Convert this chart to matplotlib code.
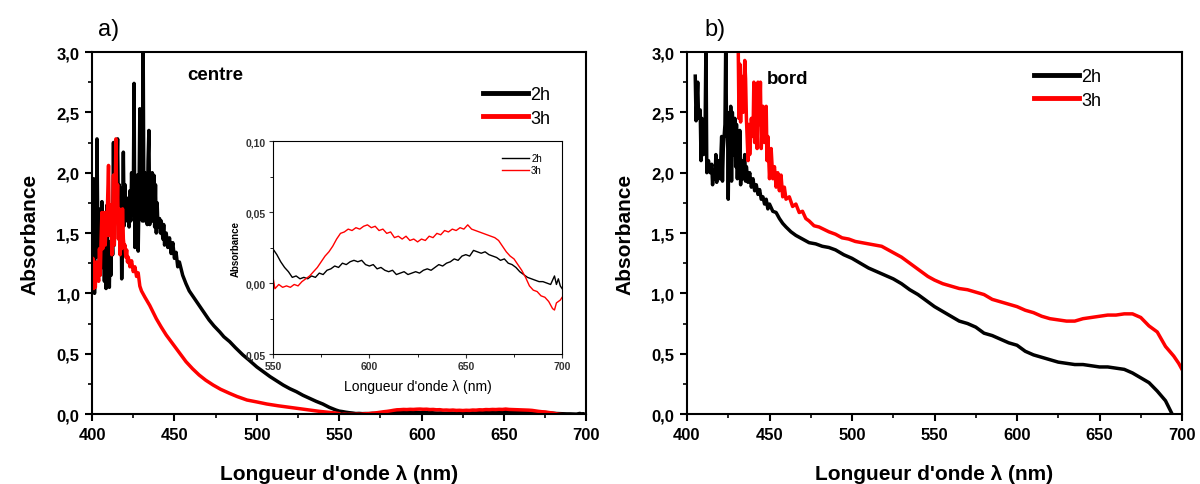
import matplotlib
matplotlib.use("Agg")
import matplotlib.pyplot as plt
from matplotlib.ticker import MultipleLocator, FuncFormatter

plt.rcParams['font.family'] = ['Liberation Sans', 'DejaVu Sans']

# ---- panel a) "centre" : 2h (black) ----
wl_a_2h = [400.0, 400.5, 401.0, 401.5, 402.0, 402.5, 403.0, 403.5, 404.0, 404.5,
           405.0, 405.5, 406.0, 406.5, 407.0, 407.5, 408.0, 408.5, 409.0, 409.5,
           410.0, 410.5, 411.0, 411.5, 412.0, 412.5, 413.0, 413.5, 414.0, 414.5,
           415.0, 415.5, 416.0, 416.5, 417.0, 417.5, 418.0, 418.5, 419.0, 419.5,
           420.0, 420.5, 421.0, 421.5, 422.0, 422.5, 423.0, 423.5, 424.0, 424.5,
           425.0, 425.5, 426.0, 426.5, 427.0, 427.5, 428.0, 428.5, 429.0, 429.5,
           430.0, 430.5, 431.0, 431.5, 432.0, 432.5, 433.0, 433.5, 434.0, 434.5,
           435.0, 435.5, 436.0, 436.5, 437.0, 437.5, 438.0, 438.5, 439.0, 439.5,
           440.0, 441.0, 441.5, 442.0, 443.0, 443.5, 444.0, 445.0, 446.0, 447.0,
           448.0, 449.0, 450.0, 451.0, 452.0, 453.0, 455.0, 457.0, 459.0, 462.0,
           465.0, 468.0, 471.0, 474.0, 477.5, 480.0, 483.5, 487.0, 491.5, 495.0,
           500.0, 504.0, 508.0, 512.0, 516.0, 520.0, 524.0, 528.0, 532.0, 536.0,
           540.0, 544.0, 548.0,
           550, 552, 554, 556, 558, 560, 562, 564, 566, 568, 570, 572, 574, 576,
           578, 580, 582, 584, 586, 588, 590, 592, 594, 596, 598, 600, 602, 604,
           606, 608, 610, 612, 614, 616, 618, 620, 622, 624, 626, 628, 630, 632,
           634, 636, 638, 640, 642, 644, 646, 648, 650, 652, 654, 656, 658, 660,
           662, 664, 666, 668, 670, 672, 674, 676, 678, 680, 682, 684, 686, 688,
           690, 692, 694, 696, 697, 698, 699, 700]
abs_a_2h = [1.20, 1.55, 1.95, 1.00, 1.70, 1.30, 2.28, 1.48, 1.70, 1.25,
            1.60, 1.21, 1.76, 1.30, 1.55, 1.10, 1.65, 1.04, 1.73, 1.20,
            1.40, 1.05, 1.43, 1.15, 1.60, 1.32, 2.25, 1.40, 1.90, 1.65,
            2.00, 2.28, 1.65, 1.90, 1.40, 1.87, 1.12, 1.60, 2.17, 1.56,
            1.90, 1.60, 1.79, 1.62, 1.75, 1.55, 1.85, 1.60, 2.00, 1.65,
            1.70, 2.74, 1.38, 1.90, 1.50, 1.98, 1.35, 1.80, 2.53, 1.73,
            2.20, 1.60, 3.10, 1.60, 2.00, 1.65, 1.98, 1.57, 2.10, 2.35,
            1.57, 1.95, 1.60, 2.00, 1.60, 1.98, 1.55, 1.90, 1.50, 1.75,
            1.55, 1.62, 1.50, 1.60, 1.45, 1.57, 1.40, 1.50, 1.38, 1.46,
            1.33, 1.42, 1.29, 1.34, 1.22, 1.26, 1.15, 1.08, 1.02, 0.96,
            0.90, 0.84, 0.78, 0.73, 0.68, 0.64, 0.60, 0.55, 0.49, 0.45,
            0.39, 0.35, 0.31, 0.275, 0.24, 0.21, 0.185, 0.155, 0.13, 0.105,
            0.083, 0.055, 0.033,
            0.024, 0.020, 0.015, 0.011, 0.008, 0.004, 0.005, 0.003, 0.004, 0.003,
            0.005, 0.004, 0.007, 0.006, 0.009, 0.010, 0.012, 0.011, 0.014, 0.013,
            0.015, 0.016, 0.015, 0.016, 0.013, 0.012, 0.013, 0.010, 0.011, 0.009,
            0.008, 0.009, 0.006, 0.007, 0.008, 0.006, 0.007, 0.008, 0.007, 0.009,
            0.010, 0.009, 0.011, 0.013, 0.012, 0.014, 0.015, 0.017, 0.016, 0.019,
            0.020, 0.019, 0.023, 0.022, 0.021, 0.022, 0.020, 0.019, 0.018, 0.016,
            0.017, 0.014, 0.013, 0.011, 0.008, 0.006, 0.004, 0.003, 0.002, 0.001,
            0.001, 0.000, -0.001, 0.005, -0.001, 0.003, -0.002, -0.004]

# ---- panel a) "centre" : 3h (red) ----
wl_a_3h = [400.0, 400.5, 401.0, 401.5, 402.0, 402.5, 403.0, 403.5, 404.0, 404.5,
           405.0, 405.5, 406.0, 406.5, 407.0, 407.5, 408.0, 408.5, 409.0, 409.5,
           410.0, 410.5, 411.0, 411.5, 412.0, 412.5, 413.0, 413.5, 414.0, 414.5,
           415.0, 415.5, 416.0, 416.5, 417.0, 417.5, 418.0, 418.5, 419.0, 419.5,
           420.0, 420.5, 421.0, 421.5, 422.0, 423.0, 424.0, 425.0, 426.0, 427.0,
           428.0, 429.0, 430.0, 432.0, 435.0, 439.0, 442.0, 445.0, 448.0, 451.0,
           454.0, 457.0, 461.0, 465.0, 469.0, 473.5, 478.0, 483.5, 488.0, 494.0,
           500.0, 506.0, 513.0, 520.0, 526.0, 532.0, 538.0, 544.0, 548.0,
           550, 551, 553, 555, 557, 559, 561, 563, 565, 567, 569, 571, 573, 575,
           577, 579, 581, 583, 585, 587, 589, 591, 593, 595, 597, 599, 601, 603,
           605, 607, 609, 611, 613, 615, 617, 619, 621, 623, 625, 627, 629, 631,
           633, 635, 637, 639, 641, 643, 645, 647, 649, 651, 653, 655, 657, 659,
           661, 663, 665, 667, 669, 671, 673, 675, 677, 679, 681, 683, 685, 687,
           689, 691, 693, 695, 696, 697, 699, 700]
abs_a_3h = [1.10, 1.29, 1.04, 1.25, 1.05, 1.26, 1.12, 1.20, 1.10, 1.37,
            1.15, 1.45, 1.67, 1.37, 1.60, 1.67, 1.40, 1.55, 1.48, 1.80,
            2.06, 1.48, 1.60, 1.73, 1.32, 1.60, 1.98, 1.40, 1.75, 2.28,
            1.62, 1.90, 1.45, 1.70, 1.32, 1.55, 1.37, 1.70, 1.45, 1.38,
            1.40, 1.30, 1.36, 1.26, 1.30, 1.22, 1.27, 1.18, 1.22, 1.14,
            1.17, 1.06, 1.02, 0.97, 0.90, 0.79, 0.72, 0.655, 0.60, 0.544,
            0.49, 0.434, 0.375, 0.323, 0.28, 0.24, 0.205, 0.171, 0.145, 0.116,
            0.10, 0.083, 0.068, 0.055, 0.044, 0.033, 0.022, 0.014, 0.008,
            0.004, -0.004, -0.001, -0.003, -0.002, -0.003, -0.001, -0.002, 0.001, 0.003,
            0.005, 0.008, 0.011, 0.015, 0.019, 0.022, 0.026, 0.031, 0.035, 0.036,
            0.038, 0.037, 0.039, 0.038, 0.040, 0.041, 0.039, 0.040, 0.037, 0.038,
            0.035, 0.036, 0.032, 0.033, 0.031, 0.033, 0.030, 0.031, 0.029, 0.031,
            0.030, 0.033, 0.032, 0.035, 0.034, 0.037, 0.036, 0.038, 0.037, 0.039,
            0.038, 0.041, 0.038, 0.037, 0.036, 0.035, 0.034, 0.033, 0.032, 0.030,
            0.026, 0.022, 0.019, 0.017, 0.013, 0.009, 0.004, -0.002, -0.005, -0.006,
            -0.009, -0.010, -0.013, -0.018, -0.019, -0.014, -0.012, -0.010]

# ---- panel b) "bord" : 2h (black) ----
wl_b_2h = [405.0, 405.5, 406.5, 407.0, 408.0, 408.5, 409.0, 410.0, 411.0, 411.5,
           412.0, 413.0, 414.0, 415.0, 415.5, 416.0, 417.0, 417.5, 418.0, 419.0,
           420.0, 421.0, 421.5, 422.0, 423.0, 423.5, 424.0, 424.5, 425.0, 425.5,
           426.0, 426.5, 427.0, 427.5, 428.0, 429.0, 429.5, 430.0, 430.5, 431.0,
           431.5, 432.0, 432.5, 433.0, 434.0, 435.0, 435.5, 436.0, 437.0, 438.0,
           439.0, 440.0, 441.0, 442.0, 443.0, 444.0, 445.0, 446.0, 447.0, 448.0,
           449.0, 450.0, 452.0, 454.0, 456.0, 458.0, 460.0, 463.0, 466.0, 470.0,
           474.0, 478.0, 482.0, 486.0, 490.0, 495.0, 500.0, 505.0, 510.0, 515.0,
           520.0, 525.0, 530.0, 535.0, 540.0, 545.0, 550.0, 555.0, 560.0, 565.0,
           570.0, 575.0, 580.0, 585.0, 590.0, 595.0, 600.0, 605.0, 610.0, 615.0,
           620.0, 625.0, 630.0, 635.0, 640.0, 645.0, 650.0, 655.0, 660.0, 665.0,
           670.0, 675.0, 680.0, 685.0, 690.0, 694.0]
abs_b_2h = [2.80, 2.43, 2.75, 2.45, 2.52, 2.10, 2.45, 2.15, 2.40, 3.10,
            2.00, 2.10, 2.00, 2.07, 1.90, 2.00, 1.95, 2.15, 1.92, 2.10,
            1.95, 2.30, 1.93, 2.20, 2.40, 3.10, 2.30, 2.50, 1.78, 2.45,
            2.05, 2.55, 1.93, 2.50, 2.15, 2.45, 2.05, 2.40, 1.95, 2.30,
            2.00, 2.35, 1.90, 2.10, 1.95, 2.15, 1.93, 2.05, 1.92, 2.00,
            1.88, 1.95, 1.85, 1.90, 1.82, 1.86, 1.78, 1.80, 1.74, 1.78,
            1.70, 1.74, 1.68, 1.67, 1.62, 1.58, 1.55, 1.51, 1.48, 1.45,
            1.42, 1.41, 1.39, 1.38, 1.36, 1.32, 1.29, 1.25, 1.21, 1.18,
            1.15, 1.12, 1.08, 1.03, 0.99, 0.94, 0.89, 0.85, 0.81, 0.77,
            0.75, 0.72, 0.67, 0.65, 0.62, 0.59, 0.57, 0.52, 0.49, 0.47,
            0.45, 0.43, 0.42, 0.41, 0.41, 0.40, 0.39, 0.39, 0.38, 0.37,
            0.34, 0.30, 0.26, 0.19, 0.11, 0.0]

# ---- panel b) "bord" : 3h (red) ----
wl_b_3h = [431.0, 431.5, 432.0, 432.5, 433.0, 434.0, 435.0, 435.5, 436.0, 437.0,
           437.5, 438.0, 439.0, 440.0, 440.5, 441.0, 442.0, 442.5, 443.0, 444.0,
           444.5, 445.0, 446.0, 447.0, 448.0, 448.5, 449.0, 450.0, 451.0, 452.0,
           453.0, 454.0, 455.0, 456.0, 457.0, 458.0, 459.0, 460.0, 462.0, 464.0,
           466.0, 468.0, 470.0, 472.0, 474.0, 477.0, 480.0, 483.0, 486.0, 490.0,
           494.0, 498.0, 502.0, 506.0, 510.0, 514.0, 518.0, 522.0, 526.0, 530.0,
           534.0, 538.0, 542.0, 546.0, 550.0, 555.0, 560.0, 565.0, 570.0, 575.0,
           580.0, 585.0, 590.0, 595.0, 600.0, 605.0, 610.0, 615.0, 620.0, 625.0,
           630.0, 635.0, 640.0, 645.0, 650.0, 655.0, 660.0, 665.0, 670.0, 675.0,
           680.0, 685.0, 690.0, 695.0, 698.0, 700.0]
abs_b_3h = [3.10, 2.45, 2.90, 2.42, 2.80, 2.50, 2.93, 2.78, 2.45, 2.10,
            2.40, 2.15, 2.45, 2.30, 2.75, 2.25, 2.60, 2.20, 2.75, 2.40,
            2.75, 2.20, 2.55, 2.25, 2.55, 2.10, 2.30, 1.95, 2.20, 1.95,
            2.05, 1.88, 2.00, 1.85, 1.98, 1.80, 1.88, 1.78, 1.80, 1.72,
            1.74, 1.67, 1.68, 1.62, 1.60, 1.56, 1.55, 1.53, 1.51, 1.49,
            1.46, 1.45, 1.43, 1.42, 1.41, 1.40, 1.39, 1.36, 1.33, 1.30,
            1.26, 1.22, 1.18, 1.14, 1.11, 1.08, 1.06, 1.04, 1.03, 1.01,
            0.99, 0.95, 0.93, 0.91, 0.89, 0.86, 0.84, 0.81, 0.79, 0.78,
            0.77, 0.77, 0.79, 0.80, 0.81, 0.82, 0.82, 0.83, 0.83, 0.80,
            0.73, 0.68, 0.56, 0.48, 0.42, 0.37]

x_label = "Longueur d'onde λ (nm)"
y_label = "Absorbance"
series_labels = ["2h", "3h"]
colors = ["black", "red"]

comma = FuncFormatter(lambda v, p: f"{v:.1f}".replace(".", ","))
comma2 = FuncFormatter(lambda v, p: f"{abs(v):.2f}".replace(".", ","))


def style_main(ax):
    ax.set_xlim(400, 700)
    ax.set_ylim(0, 3)
    ax.xaxis.set_major_locator(MultipleLocator(50))
    ax.xaxis.set_minor_locator(MultipleLocator(25))
    ax.yaxis.set_major_locator(MultipleLocator(0.5))
    ax.yaxis.set_minor_locator(MultipleLocator(0.25))
    ax.yaxis.set_major_formatter(comma)
    ax.tick_params(which="major", direction="out", length=5, width=1.5,
                   labelsize=12, pad=4)
    ax.tick_params(which="minor", direction="out", length=3, width=1.2)
    for lab in ax.get_xticklabels() + ax.get_yticklabels():
        lab.set_fontweight("bold")
    for s in ax.spines.values():
        s.set_linewidth(1.5)
    ax.set_xlabel(x_label, fontsize=15, fontweight="bold", labelpad=16)
    ax.set_ylabel(y_label, fontsize=15, fontweight="bold", labelpad=12)


fig = plt.figure(figsize=(12, 4.85), dpi=100)
ax_a = fig.add_axes([0.0767, 0.1443, 0.412, 0.7464])
ax_b = fig.add_axes([0.5725, 0.1443, 0.4125, 0.7464])

leg_kw = dict(frameon=False, fontsize=13, handlelength=2.5, handletextpad=0.15,
              labelspacing=0.35)

# panel a
ax_a.plot(wl_a_2h, abs_a_2h, color=colors[0], lw=2.5, label=series_labels[0])
ax_a.plot(wl_a_3h, abs_a_3h, color=colors[1], lw=2.5, label=series_labels[1])
style_main(ax_a)
ax_a.text(457.5, 2.81, "centre", fontsize=13.5, fontweight="bold", va="center")
leg = ax_a.legend(loc="upper right", bbox_to_anchor=(0.96, 0.95), **leg_kw)
for h in leg.get_lines():
    h.set_linewidth(3.5)

# panel b
ax_b.plot(wl_b_2h, abs_b_2h, color=colors[0], lw=2.5, label=series_labels[0])
ax_b.plot(wl_b_3h, abs_b_3h, color=colors[1], lw=2.5, label=series_labels[1])
style_main(ax_b)
ax_b.text(448.5, 2.78, "bord", fontsize=13.5, fontweight="bold", va="center")
leg = ax_b.legend(loc="upper right", bbox_to_anchor=(0.87, 1.0), **leg_kw)
for h in leg.get_lines():
    h.set_linewidth(3.5)

fig.text(0.082, 0.938, "a)", fontsize=17, va="center")
fig.text(0.587, 0.938, "b)", fontsize=17, va="center")

# inset in panel a
ins = fig.add_axes([0.2275, 0.268, 0.241, 0.439])
ins.plot(wl_a_2h, abs_a_2h, color=colors[0], lw=1.0, label=series_labels[0])
ins.plot(wl_a_3h, abs_a_3h, color=colors[1], lw=1.0, label=series_labels[1])
ins.set_xlim(550, 700)
ins.set_ylim(-0.05, 0.10)
ins.xaxis.set_major_locator(MultipleLocator(50))
ins.xaxis.set_minor_locator(MultipleLocator(25))
ins.yaxis.set_major_locator(MultipleLocator(0.05))
ins.yaxis.set_minor_locator(MultipleLocator(0.025))
ins.yaxis.set_major_formatter(comma2)
ins.tick_params(which="major", direction="out", length=3, width=0.8,
                labelsize=7.5, pad=2, colors="#333333")
ins.tick_params(which="minor", direction="out", length=2, width=0.6)
for lab in ins.get_xticklabels() + ins.get_yticklabels():
    lab.set_fontweight("bold")
for s in ins.spines.values():
    s.set_linewidth(0.8)
ins.set_xlabel(x_label, fontsize=10, labelpad=6)
ins.set_ylabel(y_label, fontsize=7, fontweight="bold", labelpad=4)
ins.legend(loc="upper right", bbox_to_anchor=(0.96, 0.985), frameon=False,
           fontsize=7, handlelength=2.8, handletextpad=0.2, labelspacing=0.25)

fig.savefig("out.png", dpi=100)
